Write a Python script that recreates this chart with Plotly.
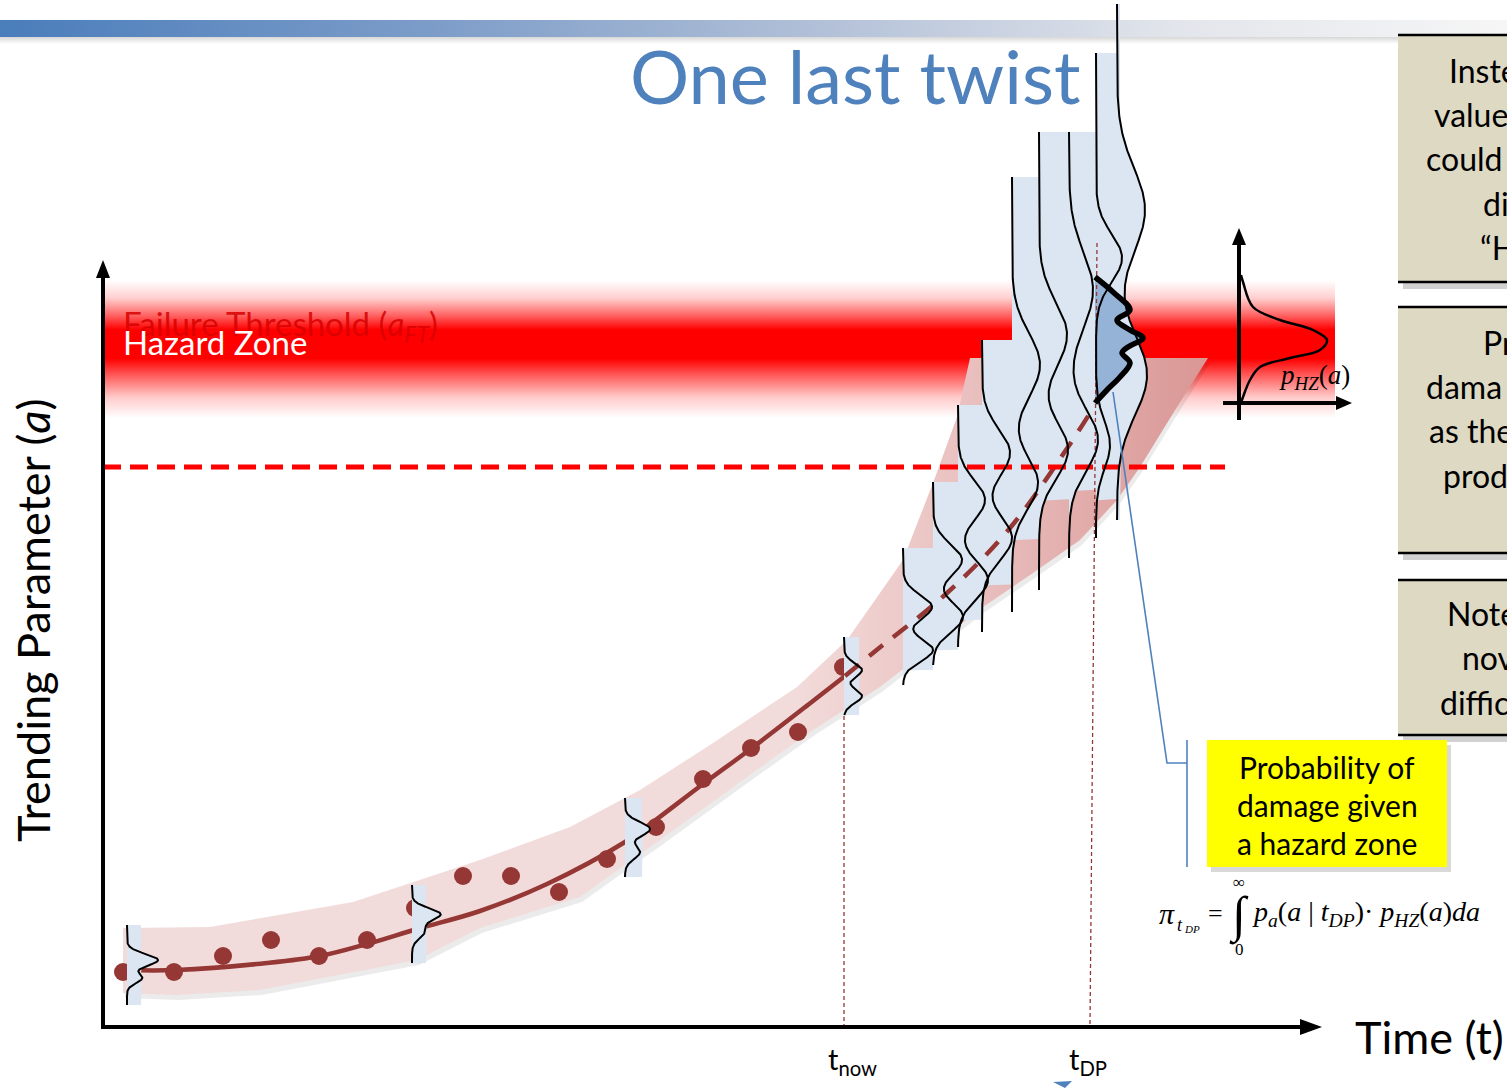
import numpy as np
import plotly.graph_objects as go

W, H = 1507, 1088

# ---------------- data (slide coordinates: time to the right, parameter upward = smaller y) ----------
obs_time = [123, 174, 223, 271, 319, 367, 415, 463, 511, 559, 607, 656, 703, 751, 798, 843]
obs_param = [972, 972, 956, 940, 956, 940, 908, 876, 876, 892, 859, 827, 779, 748, 732, 667]

fit_time = [123, 177, 267, 320, 367, 417, 480, 547, 625, 653, 703, 752, 813, 845]
fit_param = [970, 970, 963, 956, 944, 929, 911, 884, 842, 822, 784, 748, 701, 676]

pred_time = [845, 873, 947, 1010, 1068, 1095]
pred_param = [676, 653, 593, 528, 447, 405]

band_upper_time = [123, 210, 353, 480, 570, 640, 713, 797, 847, 880, 903, 933, 957, 970, 1208]
band_upper_param = [928, 927, 902, 860, 827, 790, 743, 687, 640, 593, 560, 483, 417, 358, 358]
band_lower_time = [1208, 1177, 1140, 1117, 1080, 1033, 983, 880, 813, 747, 660, 580, 480, 417, 260, 177, 123]
band_lower_param = [358, 407, 467, 500, 540, 573, 607, 687, 730, 777, 840, 897, 928, 960, 990, 995, 993]

failure_threshold = 467
hazard_top, hazard_bottom = 280, 418
t_now, t_dp = 844, 1094

# predictive distributions (baseline time, top, bottom, strip width, strip bottom, bumps (centre, height, width))
glyph_time = [127, 412, 625, 844, 903, 933, 958, 982, 1012, 1039, 1069, 1096, 1117]
glyph_top = [925, 885, 798, 637, 548, 482, 405, 340, 177, 132, 132, 53, 4]
glyph_bottom = [1005, 963, 877, 715, 685, 665, 647, 632, 612, 590, 558, 538, 520]
glyph_strip_w = [14, 14, 17, 15, 30, 25, 24, 30, 27, 30, 27, 21, 3]
glyph_strip_bottom = [1005, 963, 877, 715, 670, 650, 620, 585, 540, 500, 490, 500, 520]
glyph_bumps = [
    [(960, 31, 6), (978, 15, 5)],
    [(914, 28, 6), (931, 13, 7)],
    [(829, 25, 7), (852, 15, 7)],
    [(670, 18, 7), (696, 18, 7)],
    [(607, 29, 12), (650, 30, 11)],
    [(560, 29, 16), (617, 30, 15)],
    [(500, 27, 20), (580, 30, 19)],
    [(453, 28, 24), (538, 30, 22)],
    [(365, 28, 32), (483, 26, 26)],
    [(335, 28, 33), (450, 29, 28)],
    [(290, 24, 38), (440, 29, 30)],
    [(258, 26, 24), (445, 14, 24)],
    [(210, 28, 42), (375, 30, 40)],
]

# damage pdf inside hazard zone (highlighted)
dmg_time = [1095, 1113, 1130, 1117, 1130, 1143, 1128, 1122, 1130, 1120, 1107, 1095]
dmg_param = [277, 292, 310, 320, 330, 338, 347, 353, 363, 377, 390, 403]

# hazard-zone pdf inset
hz_a = [275, 282, 307, 320, 330, 340, 350, 358, 367, 380, 397, 403]
hz_p = [1241, 1243, 1253, 1280, 1313, 1327, 1320, 1290, 1260, 1250, 1243, 1241]

# ---------------- figure ----------------
fig = go.Figure()
NOHOVER = dict(hoverinfo="skip", showlegend=False)


def poly(xs, ys, **kw):
    fig.add_trace(go.Scatter(x=list(xs), y=list(ys), mode="lines", fill="toself", **NOHOVER, **kw))


def line(xs, ys, color, width, dash="solid", shape="linear"):
    fig.add_trace(go.Scatter(x=list(xs), y=list(ys), mode="lines",
                             line=dict(color=color, width=width, dash=dash, shape=shape), **NOHOVER))


# top banner with shadow
poly([0, W, W, 0], [36, 36, 44, 44], line=dict(width=0),
     fillgradient=dict(type="vertical", start=36, stop=44,
                       colorscale=[[0, "rgba(0,0,0,0.18)"], [1, "rgba(0,0,0,0)"]]))
poly([0, W, W, 0], [20, 20, 37, 37], line=dict(width=0),
     fillgradient=dict(type="horizontal", start=0, stop=W,
                       colorscale=[[0, "#4a7dbb"], [0.3, "#7f9ec9"], [0.55, "#b3c1d8"],
                                   [0.78, "#e2e5eb"], [1, "#f6f6f6"]]))

# hazard zone band
poly([104, 1335, 1335, 104], [hazard_top, hazard_top, hazard_bottom, hazard_bottom], line=dict(width=0),
     fillgradient=dict(type="vertical", start=hazard_top, stop=hazard_bottom,
                       colorscale=[[0, "#ffffff"], [0.13, "#ffd0d0"], [0.26, "#ff6060"], [0.36, "#ff0000"],
                                   [0.57, "#ff0000"], [0.69, "#ff5a5a"], [0.85, "#ffcaca"], [1, "#ffffff"]]))

# uncertainty band (soft shadow + band)
poly([x + 2 for x in band_upper_time + band_lower_time], [y + 5 for y in band_upper_param + band_lower_param],
     line=dict(width=0), fillcolor="rgba(0,0,0,0.08)")
poly(band_upper_time + band_lower_time, band_upper_param + band_lower_param, line=dict(width=0),
     fillgradient=dict(type="horizontal", start=103, stop=1210,
                       colorscale=[[0, "#f2dcdb"], [0.62, "#f2dcdb"], [0.8, "#e8bdbc"], [1, "#d99694"]]))

# fitted trend and observations
line(fit_time, fit_param, "#953735", 4.5, shape="spline")
fig.add_trace(go.Scatter(x=obs_time, y=obs_param, mode="markers",
                         marker=dict(size=18, color="#953735"), **NOHOVER))

# glyph fills
curves = []
for i, x0 in enumerate(glyph_time):
    ys = np.linspace(glyph_top[i], glyph_bottom[i], 400)
    g = np.zeros_like(ys)
    for c, A, s in glyph_bumps[i]:
        g += A * np.exp(-0.5 * ((ys - c) / s) ** 2)
    w = np.where(ys <= glyph_strip_bottom[i], glyph_strip_w[i], 0.0)
    edge = x0 + np.maximum(g, w)
    fx = np.concatenate([[x0, x0], edge[::-1]])
    fy = np.concatenate([[ys[0], ys[-1]], ys[::-1]])
    poly(fx, fy, line=dict(width=0), fillcolor="#dce6f2")
    curves.append((x0 + g, ys))

# highlighted damage region
poly([dmg_time[0]] + dmg_time + [dmg_time[-1]], [dmg_param[0]] + dmg_param + [dmg_param[-1]],
     line=dict(width=0), fillcolor="#95b3d7")

# forecast (dashed) trend
line(pred_time, pred_param, "#953735", 4.5, dash="18px,13px", shape="spline")

# failure threshold
line([103, 1225], [failure_threshold, failure_threshold], "#ff0000", 5, dash="18px,9px")

# time markers
line([t_now, t_now], [716, 1025], "#953735", 1.3, dash="4px,3px")
line([t_dp + 3, t_dp - 4], [243, 1025], "#953735", 1.3, dash="4px,3px")

# glyph curves
for cx, cy in curves:
    line(cx, cy, "black", 2)
line(dmg_time, dmg_param, "black", 5.5, shape="spline")

# axes
line([103, 103], [1029, 272], "black", 4)
line([101, 1305], [1027, 1027], "black", 4)
poly([96, 103, 110], [278, 260, 278], line=dict(width=0), fillcolor="black")
poly([1300, 1322, 1300], [1019, 1027, 1035], line=dict(width=0), fillcolor="black")

# callout line
line([1113, 1167, 1187], [392, 763, 763], "#4f81bd", 1.6)
line([1187, 1187], [740, 867], "#4f81bd", 1.6)

# inset hazard pdf
line([1239, 1239], [420, 243], "black", 4)
line([1223, 1338], [403, 403], "black", 4)
poly([1232, 1239, 1246], [245, 228, 245], line=dict(width=0), fillcolor="black")
poly([1336, 1352, 1336], [396, 403, 410], line=dict(width=0), fillcolor="black")
line(hz_p, hz_a, "black", 2.5, shape="spline")

# right-hand note boxes (cut by slide edge)
for (y0, y1) in [(35, 282), (307, 553), (580, 735)]:
    poly([1403, 1530, 1530, 1403], [y0 + 6, y0 + 6, y1 + 7, y1 + 7], line=dict(width=0),
         fillcolor="rgba(0,0,0,0.18)")
    poly([1398, 1530, 1530, 1398], [y0, y0, y1, y1], line=dict(color="black", width=2.5),
         fillcolor="#ddd9c3")

# yellow box
poly([1211, 1451, 1451, 1211], [745, 745, 872, 872], line=dict(width=0), fillcolor="rgba(0,0,0,0.15)")
poly([1207, 1447, 1447, 1207], [740, 740, 867, 867], line=dict(width=0), fillcolor="#ffff00")

# small arrow tip at bottom
poly([1053, 1072, 1065], [1082, 1081, 1088], line=dict(width=0), fillcolor="#4f81bd")

# ---------------- text ----------------
SANS = "Lato, 'Open Sans', sans-serif"
SERIF = "'Liberation Serif', 'DejaVu Serif', serif"
ann = []


def txt(x, y, s, size, color="black", family=SANS, xanchor="left", angle=0):
    ann.append(dict(x=x, y=y, xref="x", yref="y", text=s, showarrow=False, xanchor=xanchor,
                    yanchor="middle", textangle=angle, font=dict(size=size, color=color, family=family)))


txt(855, 75, "One last twist", 74, "#4f81bd", xanchor="center")
txt(121, 325, "Failure Threshold (<i>a</i><sub><i>FT</i></sub>)", 33, "rgba(215,0,0,0.85)")
txt(121, 342, "Hazard Zone", 33, "white")
txt(33, 621, "Trending Parameter (<i>a</i>)", 45, angle=-90, xanchor="center")
txt(1353, 1037, "Time (t)", 45)
txt(826, 1060, "t<sub>now</sub>", 29)
txt(1067, 1060, "t<sub>DP</sub>", 29)

for s, y in [("Probability of", 767), ("damage given", 805), ("a hazard zone", 843)]:
    txt(1327, y, s, 30, xanchor="center")

for s, x, y in [("Inste", 1447, 70), ("value", 1432, 114), ("could", 1424, 158), ("di", 1481, 203),
                ("\u201cH", 1478, 247),
                ("Pr", 1481, 342), ("dama", 1424, 386), ("as the", 1427, 430), ("prod", 1441, 475),
                ("Note", 1445, 613), ("nov", 1460, 657), ("diffic", 1438, 702)]:
    txt(x, y, s, 32)

# formulas
txt(1277, 377, "<i>p</i><sub><i>HZ</i></sub>(<i>a</i>)", 27, family=SERIF)
txt(1157, 913, "<i>\u03c0</i>", 30, family=SERIF)
txt(1175, 925, "<i>t</i>", 18, family=SERIF)
txt(1182, 929, "<i>DP</i>", 11, family=SERIF)
txt(1215, 913, "=", 26, family=SERIF, xanchor="center")
txt(1239, 915, "\u222b", 50, family=SERIF, xanchor="center")
txt(1239, 882, "\u221e", 17, family=SERIF, xanchor="center")
txt(1239, 949, "0", 17, family=SERIF, xanchor="center")
txt(1250, 913, "<i>p</i><sub><i>a</i></sub>(<i>a</i> | <i>t</i><sub><i>DP</i></sub>)\u00b7 "
               "<i>p</i><sub><i>HZ</i></sub>(<i>a</i>)<i>da</i>", 28, family=SERIF)

fig.update_layout(
    width=W, height=H, margin=dict(l=0, r=0, t=0, b=0),
    paper_bgcolor="white", plot_bgcolor="white",
    xaxis=dict(range=[0, W], visible=False, fixedrange=True),
    yaxis=dict(range=[H, 0], visible=False, fixedrange=True),
    annotations=ann, showlegend=False,
)

fig.write_html("out.html", config={"displayModeBar": False},
               post_script="document.body.style.margin='0px';document.body.style.overflow='hidden';")
